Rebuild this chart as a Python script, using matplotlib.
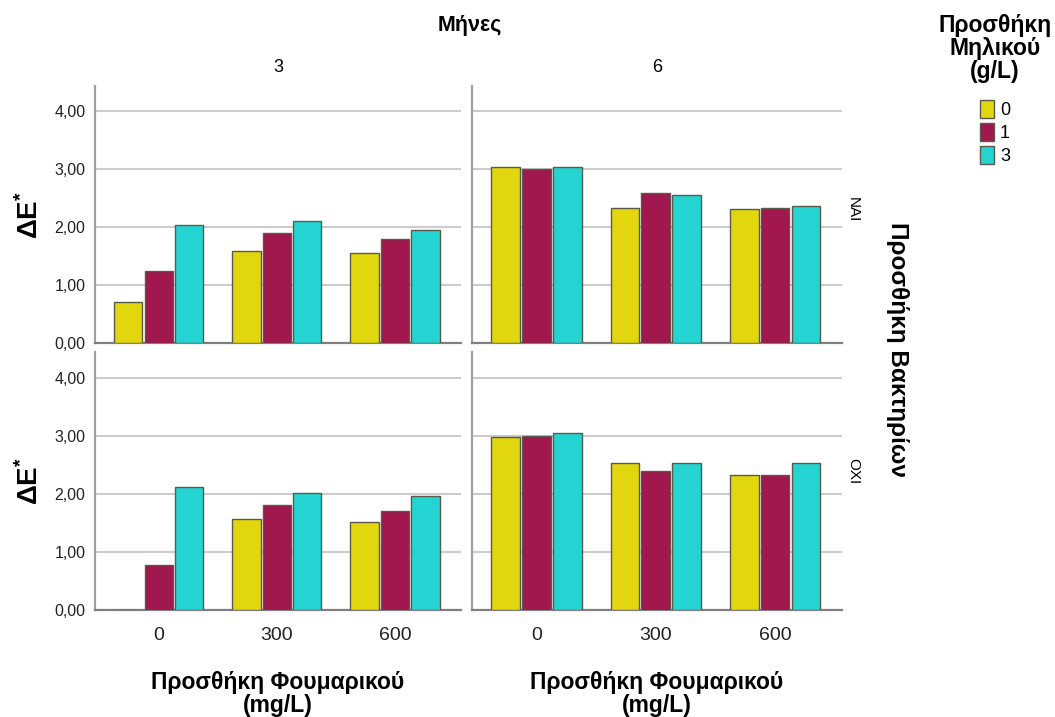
import numpy as np
import matplotlib
matplotlib.use('Agg')
import matplotlib.pyplot as plt
from matplotlib.patches import Patch

plt.rcParams['font.family'] = ['Liberation Sans', 'DejaVu Sans']
plt.rcParams['mathtext.fontset'] = 'custom'
plt.rcParams['mathtext.bf'] = 'Liberation Sans:bold'
plt.rcParams['mathtext.rm'] = 'Liberation Sans'

months = ['3', '6']
bacteria = ['ΝΑΙ', 'ΟΧΙ']
fumaric = ['0', '300', '600']
malic = ['0', '1', '3']

# rows = malic level (0, 1, 3), columns = fumaric level (0, 300, 600)
nai_3 = [[0.70, 1.59, 1.55], [1.24, 1.90, 1.79], [2.03, 2.11, 1.95]]
nai_6 = [[3.04, 2.34, 2.32], [3.01, 2.60, 2.34], [3.04, 2.55, 2.36]]
oxi_3 = [[0.00, 1.56, 1.51], [0.77, 1.80, 1.71], [2.12, 2.02, 1.97]]
oxi_6 = [[2.97, 2.53, 2.33], [3.00, 2.40, 2.33], [3.04, 2.53, 2.53]]

colors = ['#E2D60E', '#A0184D', '#23D4D2']
yticks = [0, 1, 2, 3, 4]
ytick_labels = ['0,00', '1,00', '2,00', '3,00', '4,00']

fig = plt.figure(figsize=(10.55, 7.17), dpi=100)
W, H = 1055, 717

def make_ax(x0, x1, y0, y1):
    return fig.add_axes([x0 / W, 1 - y1 / H, (x1 - x0) / W, (y1 - y0) / H])

axes = [[make_ax(95, 461, 86, 343), make_ax(472, 842, 86, 343)],
        [make_ax(95, 461, 352, 610), make_ax(472, 842, 352, 610)]]
panel_data = [[nai_3, nai_6], [oxi_3, oxi_6]]

x = np.arange(len(fumaric))
step = 0.258
width = 0.24
for r in range(2):
    for c in range(2):
        ax = axes[r][c]
        data = panel_data[r][c]
        for i, vals in enumerate(data):
            ax.bar(x + (i - 1) * step, vals, width, color=colors[i],
                   edgecolor='#5a5a4a', linewidth=1.0, zorder=3)
        ax.set_xlim(-0.54, 2.56)
        ax.set_ylim(0, 4.44)
        ax.set_yticks(yticks)
        ax.yaxis.grid(True, color='#cccccc', linewidth=1.5, zorder=0)
        ax.set_axisbelow(True)
        for s in ['top', 'right']:
            ax.spines[s].set_visible(False)
        ax.spines['left'].set_color('#a0a0a0')
        ax.spines['left'].set_linewidth(1.6)
        ax.spines['bottom'].set_color('#808080')
        ax.spines['bottom'].set_linewidth(1.6)
        ax.tick_params(length=0)
        if c == 0:
            ax.set_yticklabels(ytick_labels, fontsize=11.5, color='#222222')
            ax.tick_params(axis='y', pad=7)
            ax.set_ylabel(r'$\mathbf{\Delta E^{*}}$', fontsize=20, labelpad=7)
        else:
            ax.set_yticklabels([])
        ax.set_xticks(x)
        if r == 1:
            ax.set_xticklabels(fumaric, fontsize=14, color='#222222')
            ax.tick_params(axis='x', pad=12)
            ax.set_xlabel('Προσθήκη Φουμαρικού\n(mg/L)', fontsize=16.5,
                          fontweight='bold', labelpad=20, linespacing=1.0)
        else:
            ax.set_xticklabels([])
        if r == 0:
            ax.set_title(months[c], fontsize=13, pad=10)
        if c == 1:
            ax.text(1.03, 0.52 if r == 0 else 0.54, bacteria[r],
                    transform=ax.transAxes, rotation=-90, fontsize=11,
                    va='center', ha='center')

fig.text(470 / W, 1 - 25 / H, 'Μήνες', fontsize=15.5, fontweight='bold',
         ha='center', va='center')
fig.text(897 / W, 1 - 349 / H, 'Προσθήκη Βακτηρίων', fontsize=17.5,
         fontweight='bold', rotation=-90, ha='center', va='center')

handles = [Patch(facecolor=colors[i], edgecolor='#5a5a4a', label=malic[i])
           for i in range(3)]
leg = fig.legend(handles=handles, loc='upper center',
                 bbox_to_anchor=(995 / W, 1 + 2 / H), frameon=False,
                 title='Προσθήκη\nΜηλικού\n(g/L)', fontsize=13,
                 title_fontproperties={'weight': 'bold', 'size': 16.5},
                 handlelength=0.8, handleheight=1.2, handletextpad=0.3,
                 labelspacing=0.2)
leg.get_title().set_multialignment('center')
leg.get_title().set_linespacing(1.0)
leg._legend_box.sep = 12

fig.savefig('out.png', dpi=100)
